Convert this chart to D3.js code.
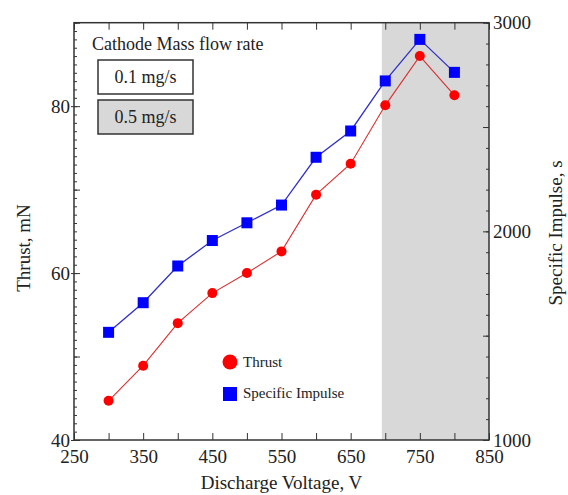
<!DOCTYPE html>
<html>
<head>
<meta charset="utf-8">
<script src="https://cdn.jsdelivr.net/npm/d3@7"></script>
<style>
  body { margin: 0; background: #fff; }
  svg text { font-family: "Liberation Serif", "DejaVu Serif", serif; fill: #222; }
  .axis path { display: none; }
  .axis line { stroke: #333; stroke-width: 1; }
</style>
</head>
<body>
<script>
// discharge voltage, V
var voltage = [300, 350, 400, 450, 500, 550, 600, 650, 700, 750, 800];
// thrust, mN (left axis)
var thrust = [44.7, 48.9, 54.0, 57.6, 60.0, 62.6, 69.4, 73.1, 80.1, 86.0, 81.3];
// specific impulse, s (right axis)
var isp = [1516, 1658, 1834, 1956, 2041, 2126, 2355, 2481, 2721, 2920, 2762];
// range run at 0.5 mg/s cathode flow
var shadeRange = [695, 850];
var xLabels = [250, 350, 450, 550, 650, 750, 850];
var yLeftLabels = [40, 60, 80];
var yRightLabels = [1000, 2000, 3000];

drawChart();

function drawChart(){

    var width = 568, height = 495;
    var pLeft = 74, pRight = 489, pTop = 22.7, pBottom = 440;

    var svg = d3.select("body").append("svg")
        .attr("width", width)
        .attr("height", height);

    var x = d3.scaleLinear().domain([250, 850]).range([pLeft, pRight]);
    var yL = d3.scaleLinear().domain([40, 90]).range([pBottom, pTop]);
    var yR = d3.scaleLinear().domain([1000, 3000]).range([pBottom, pTop]);

    //shaded region
    svg.append("rect")
        .attr("x", x(shadeRange[0]))
        .attr("y", pTop)
        .attr("width", x(shadeRange[1]) - x(shadeRange[0]))
        .attr("height", pBottom - pTop)
        .attr("fill", "#d8d8d8");

    //axes
    var xTicks = d3.range(250, 851, 50);
    svg.append("g").attr("class", "axis")
        .attr("transform", "translate(0," + pBottom + ")")
        .call(d3.axisBottom(x).tickValues(xTicks).tickSizeInner(-7).tickSizeOuter(0).tickPadding(10)
            .tickFormat(function(d){ return xLabels.indexOf(d) >= 0 ? d : ""; }))
        .selectAll("text").attr("font-size", 19);

    svg.append("g").attr("class", "axis")
        .attr("transform", "translate(0," + pTop + ")")
        .call(d3.axisTop(x).tickValues(xTicks).tickSizeInner(-7).tickSizeOuter(0).tickFormat(""));

    svg.append("g").attr("class", "axis")
        .attr("transform", "translate(" + pLeft + ",0)")
        .call(d3.axisLeft(yL).tickValues(d3.range(40, 91, 1)).tickSizeInner(-3).tickSizeOuter(0).tickFormat(""));
    svg.append("g").attr("class", "axis")
        .attr("transform", "translate(" + pLeft + ",0)")
        .call(d3.axisLeft(yL).tickValues(d3.range(40, 91, 10)).tickSizeInner(-6).tickSizeOuter(0).tickFormat(""));
    svg.append("g").attr("class", "axis")
        .attr("transform", "translate(" + pLeft + ",0)")
        .call(d3.axisLeft(yL).tickValues(yLeftLabels).tickSizeInner(3).tickSizeOuter(0).tickPadding(1))
        .selectAll("text").attr("font-size", 19);

    svg.append("g").attr("class", "axis")
        .attr("transform", "translate(" + pRight + ",0)")
        .call(d3.axisRight(yR).tickValues(d3.range(1000, 3001, 100)).tickSizeInner(-3).tickSizeOuter(0).tickFormat(""));
    svg.append("g").attr("class", "axis")
        .attr("transform", "translate(" + pRight + ",0)")
        .call(d3.axisRight(yR).tickValues(d3.range(1000, 3001, 500)).tickSizeInner(-6).tickSizeOuter(0).tickFormat(""));
    svg.append("g").attr("class", "axis")
        .attr("transform", "translate(" + pRight + ",0)")
        .call(d3.axisRight(yR).tickValues(yRightLabels).tickSizeInner(0).tickSizeOuter(0).tickPadding(4)
            .tickFormat(d3.format("d")))
        .selectAll("text").attr("font-size", 19);

    //frame
    svg.append("rect")
        .attr("x", pLeft).attr("y", pTop)
        .attr("width", pRight - pLeft).attr("height", pBottom - pTop)
        .attr("fill", "none").attr("stroke", "#333").attr("stroke-width", 1.5);

    //thrust series
    var lineL = d3.line().x(function(d, i){ return x(voltage[i]); }).y(function(d){ return yL(d); });
    svg.append("path").datum(thrust)
        .attr("d", lineL).attr("fill", "none").attr("stroke", "#d83030").attr("stroke-width", 1.1);
    svg.selectAll(".thrust").data(thrust).enter().append("circle")
        .attr("class", "thrust")
        .attr("cx", function(d, i){ return x(voltage[i]); })
        .attr("cy", function(d){ return yL(d); })
        .attr("r", 5).attr("fill", "#ff0000");

    //isp series
    var lineR = d3.line().x(function(d, i){ return x(voltage[i]); }).y(function(d){ return yR(d); });
    svg.append("path").datum(isp)
        .attr("d", lineR).attr("fill", "none").attr("stroke", "#3030c8").attr("stroke-width", 1.3);
    svg.selectAll(".isp").data(isp).enter().append("rect")
        .attr("class", "isp")
        .attr("x", function(d, i){ return x(voltage[i]) - 5.5; })
        .attr("y", function(d){ return yR(d) - 5.5; })
        .attr("width", 11).attr("height", 11).attr("fill", "#0000ff");

    //axis titles
    svg.append("text").attr("x", (pLeft + pRight) / 2).attr("y", 489)
        .attr("text-anchor", "middle").attr("font-size", 19).text("Discharge Voltage, V");
    svg.append("text").attr("transform", "translate(30,248) rotate(-90)")
        .attr("text-anchor", "middle").attr("font-size", 19).text("Thrust, mN");
    svg.append("text").attr("transform", "translate(562,233) rotate(-90)")
        .attr("text-anchor", "middle").attr("font-size", 19).text("Specific Impulse, s");

    //flow rate boxes
    svg.append("text").attr("x", 92).attr("y", 50).attr("font-size", 18).text("Cathode Mass flow rate");
    var boxes = [{label: "0.1 mg/s", fill: "#fff", y: 60}, {label: "0.5 mg/s", fill: "#d8d8d8", y: 100}];
    boxes.forEach(function(b){
        svg.append("rect").attr("x", 98).attr("y", b.y).attr("width", 95).attr("height", 34)
            .attr("fill", b.fill).attr("stroke", "#333").attr("stroke-width", 1.5);
        svg.append("text").attr("x", 145.5).attr("y", b.y + 23).attr("text-anchor", "middle")
            .attr("font-size", 18).text(b.label);
    });

    //legend
    svg.append("circle").attr("cx", 230).attr("cy", 362).attr("r", 7.5).attr("fill", "#ff0000");
    svg.append("text").attr("x", 243).attr("y", 367).attr("font-size", 15).text("Thrust");
    svg.append("rect").attr("x", 223).attr("y", 387).attr("width", 14).attr("height", 14).attr("fill", "#0000ff");
    svg.append("text").attr("x", 243).attr("y", 398).attr("font-size", 15).text("Specific Impulse");
}
</script>
</body>
</html>
